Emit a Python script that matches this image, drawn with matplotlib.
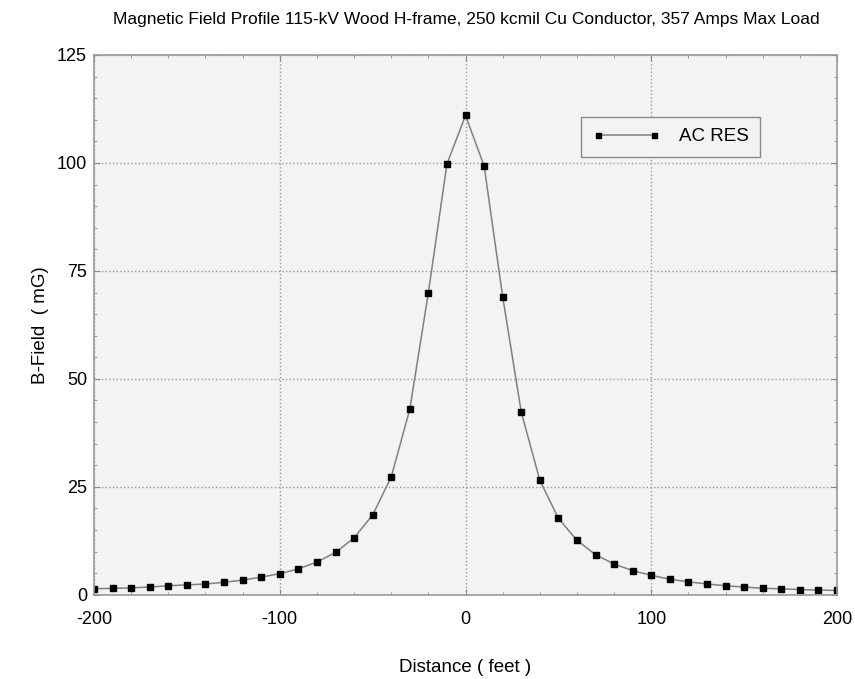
import matplotlib.pyplot as plt
from matplotlib.ticker import MultipleLocator

plt.rcParams['font.family'] = ['Liberation Sans', 'DejaVu Sans']
plt.rcParams['axes.unicode_minus'] = False

# distance from centerline (feet) and field (mG)
distance = list(range(-200, 201, 10))
bfield = [1.4, 1.5, 1.6, 1.8, 2.1, 2.3, 2.5, 2.9, 3.4, 4.1,
          4.9, 6.0, 7.6, 9.8, 13.2, 18.5, 27.3, 43.0, 70.0, 99.8,
          111.0,
          99.3, 69.0, 42.3, 26.5, 17.7, 12.6, 9.3, 7.1, 5.6, 4.5,
          3.6, 3.0, 2.5, 2.1, 1.8, 1.5, 1.4, 1.2, 1.1, 1.0]

fig = plt.figure(figsize=(8.55, 6.79), dpi=100)
ax = fig.add_axes([0.110, 0.124, 0.869, 0.795])
ax.set_facecolor('#f3f3f3')

ax.plot(distance, bfield, color='#808080', lw=1.1,
        marker='s', ms=4.5, mfc='black', mec='black', label='AC RES')

ax.set_xlim(-200, 200)
ax.set_ylim(0, 125)
ax.xaxis.set_major_locator(MultipleLocator(100))
ax.xaxis.set_minor_locator(MultipleLocator(20))
ax.yaxis.set_major_locator(MultipleLocator(25))
ax.yaxis.set_minor_locator(MultipleLocator(5))
ax.tick_params(which='both', direction='in', top=True, right=True,
               color='#888888', labelsize=13)
ax.tick_params(axis='x', pad=12)
ax.tick_params(axis='y', pad=5)
ax.tick_params(which='major', length=4)
ax.tick_params(which='minor', length=2.5)
ax.grid(True, which='major', ls=':', color='#999999', lw=1)
for s in ax.spines.values():
    s.set_color('#999999')
    s.set_linewidth(1.2)

ax.set_xlabel('Distance ( feet )', fontsize=13.5, labelpad=22)
ax.set_ylabel('B-Field  ( mG)', fontsize=13.5, labelpad=6)
fig.text(0.545, 0.972, 'Magnetic Field Profile 115-kV Wood H-frame, 250 kcmil Cu Conductor, 357 Amps Max Load',
         ha='center', va='center', fontsize=12.5)

leg = ax.legend(loc='upper right', bbox_to_anchor=(0.896, 0.885), borderaxespad=0,
                fontsize=13.5, fancybox=False, framealpha=1, edgecolor='#888888',
                numpoints=2, markerscale=0.8,
                handlelength=3.6, handletextpad=1.0, borderpad=0.6)
leg.get_frame().set_facecolor('#f3f3f3')

fig.savefig('out.png', dpi=100)
